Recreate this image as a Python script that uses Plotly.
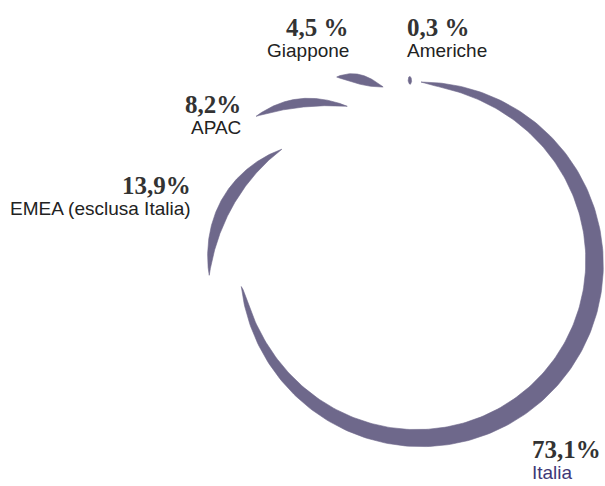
import numpy as np
import plotly.graph_objects as go

# ---- data ----
regions = ["Italia", "EMEA (esclusa Italia)", "APAC", "Giappone", "Americhe"]
shares = [73.1, 13.9, 8.2, 4.5, 0.3]
share_text = ["73,1%", "13,9%", "8,2%", "4,5 %", "0,3 %"]

# ---- style (geometry of the brush-stroke ring) ----
W, H = 605, 486
cx, cy = 421, 265
color = "#6e688b"
shift = [0.0, 0.3, -4.4, -8.9, -2.9]        # angular nudge of each stroke (deg)
length_k = [1.0, 0.85, 0.78, 0.75, 1.0]     # visual length factor
r_start = [183, 212, 222, 206, 185]
r_end = [181, 181, 175, 182, 185]
thick = [19, 13, 10, 11, 8]
out_frac = [0.0, 1.0, 0.8, 0.6, 0.5]
power = [0.6, 0.9, 0.9, 0.9, 0.5]

fig = go.Figure()

cum = np.concatenate([[0], np.cumsum(shares)[:-1]]) * 3.6
for i, v in enumerate(shares):
    span = v * 3.6
    centre = cum[i] + span / 2 + shift[i]
    span_v = span * length_k[i]
    a0, a1 = centre - span_v / 2, centre + span_v / 2
    t = np.linspace(0, 1, 240)
    th = np.radians(a0 + (a1 - a0) * t)
    T = thick[i] * np.sin(np.pi * t) ** power[i]
    rb = r_start[i] + (r_end[i] - r_start[i]) * t
    ro = rb + out_frac[i] * T
    ri = rb - (1 - out_frac[i]) * T
    xs = np.concatenate([cx + ro * np.sin(th), (cx + ri * np.sin(th))[::-1]])
    ys = np.concatenate([cy - ro * np.cos(th), (cy - ri * np.cos(th))[::-1]])
    fig.add_trace(go.Scatter(x=xs, y=ys, mode="lines", fill="toself",
                             fillcolor=color, line=dict(color=color, width=0.6),
                             hoverinfo="skip", showlegend=False))

serif = "Liberation Serif"
sans = "Liberation Sans"
# label anchor positions (pixels): x, baseline of value, align
lab_pos = [
    (530, 457, "left"),
    (193, 193, "right"),
    (243, 112, "right"),
    (351, 35, "right"),
    (405, 35, "left"),
]
for i in range(len(regions)):
    x, base, al = lab_pos[i]
    fig.add_annotation(x=x, y=base - 8, text="<b>" + share_text[i] + "</b>",
                       showarrow=False, xanchor=al, yanchor="middle",
                       font=dict(family=serif, size=25, color="#333333"))
    fig.add_annotation(x=x, y=base + 15, text=regions[i],
                       showarrow=False, xanchor=al, yanchor="middle",
                       font=dict(family=sans, size=19,
                                 color="#3f3877" if i == 0 else "#222222"))

fig.update_layout(
    width=W, height=H, margin=dict(l=0, r=0, t=0, b=0),
    paper_bgcolor="white", plot_bgcolor="white",
    xaxis=dict(range=[0, W], visible=False, fixedrange=True),
    yaxis=dict(range=[H, 0], visible=False, fixedrange=True),
)
fig.write_html("out.html", config={"displayModeBar": False},
               post_script="document.body.style.margin='0';"
                           "document.body.style.overflow='hidden';")
